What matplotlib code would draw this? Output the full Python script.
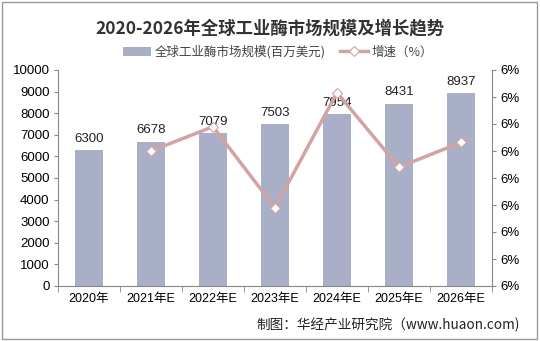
import matplotlib.pyplot as plt
from matplotlib.ticker import FuncFormatter
import numpy as np

plt.rcParams['font.family'] = ['Noto Sans CJK SC', 'DejaVu Sans']

# data
years = ['2020年', '2021年E', '2022年E', '2023年E', '2024年E', '2025年E', '2026年E']
market_size = [6300, 6678, 7079, 7503, 7954, 8431, 8937]
growth_years = years[1:]
growth_rate = [6.000, 6.0045, 5.9895, 6.0108, 5.997, 6.0016]

bar_color = '#a9afc6'
line_color = '#d3a3a3'
axis_color = '#888888'
num_font = 'Liberation Sans'

fig = plt.figure(figsize=(5.4, 3.41), dpi=100)
ax = fig.add_axes([58 / 540, 1 - 286 / 341, 434 / 540, 216 / 341])

x = np.arange(len(years))
ax.bar(x, market_size, width=0.45, color=bar_color, label='全球工业酶市场规模(百万美元)', zorder=2)
for xi, v in zip(x, market_size):
    ax.text(xi, v + 250, str(v), ha='center', va='bottom', fontsize=9.5,
            family=num_font, color='#222222', zorder=5)

ax.set_ylim(0, 10000)
ax.set_yticks(range(0, 10001, 1000))
ax.set_xlim(-0.5, len(years) - 0.5)
ax.set_xticks(x)
ax.set_xticklabels(years, fontsize=9)
ax.set_xticks(np.arange(-0.5, len(years), 1), minor=True)
ax.tick_params(axis='x', which='major', length=0, pad=5)
ax.tick_params(axis='x', which='minor', length=4, color=axis_color)
ax.tick_params(axis='y', length=3, color=axis_color, labelsize=9.5, pad=3)
for lbl in ax.get_yticklabels():
    lbl.set_family(num_font)
for lbl in ax.get_xticklabels():
    lbl.set_family([num_font, 'Noto Sans CJK SC'])
ax.spines['top'].set_visible(False)
ax.spines['right'].set_visible(False)
ax.spines['left'].set_color(axis_color)
ax.spines['bottom'].set_color(axis_color)

ax2 = ax.twinx()
gx = np.arange(1, len(years))
ax2.plot(gx, growth_rate, color=line_color, lw=2.5, marker='D', markersize=5,
         markerfacecolor='white', markeredgecolor=line_color, markeredgewidth=0.8,
         label='增速（%）', zorder=4)
ax2.set_ylim(5.975, 6.015)
ax2.set_yticks(np.linspace(5.975, 6.015, 9))
ax2.yaxis.set_major_formatter(FuncFormatter(lambda v, p: f'{v:.0f}%'))
ax2.tick_params(axis='y', length=3, color=axis_color, labelsize=9.5, pad=3)
for lbl in ax2.get_yticklabels():
    lbl.set_family(num_font)
for s in ['top', 'left', 'bottom']:
    ax2.spines[s].set_visible(False)
ax2.spines['right'].set_color(axis_color)

fig.text(0.5, 1 - 28 / 341, '2020-2026年全球工业酶市场规模及增长趋势', ha='center', va='center',
         fontsize=12.5, fontweight='bold', color='#333333')

h1, l1 = ax.get_legend_handles_labels()
h2, l2 = ax2.get_legend_handles_labels()
leg = fig.legend(h1 + h2, l1 + l2, loc='center', bbox_to_anchor=(278 / 540, 1 - 52 / 341), ncol=2,
                 frameon=False, fontsize=9, handlelength=2.2, columnspacing=1.2, handletextpad=0.3)
for t in leg.get_texts():
    t.set_color('#444444')

fig.text(520 / 540, 1 - 325 / 341, '制图：华经产业研究院（www.huaon.com)', ha='right', va='center',
         fontsize=9.8, color='#222222')

# outer frame
fig.patches.append(plt.Rectangle((0.004, 0.006), 0.99, 0.988, transform=fig.transFigure,
                                 fill=False, edgecolor='#999999', lw=1))

fig.savefig('out.png', dpi=100)
